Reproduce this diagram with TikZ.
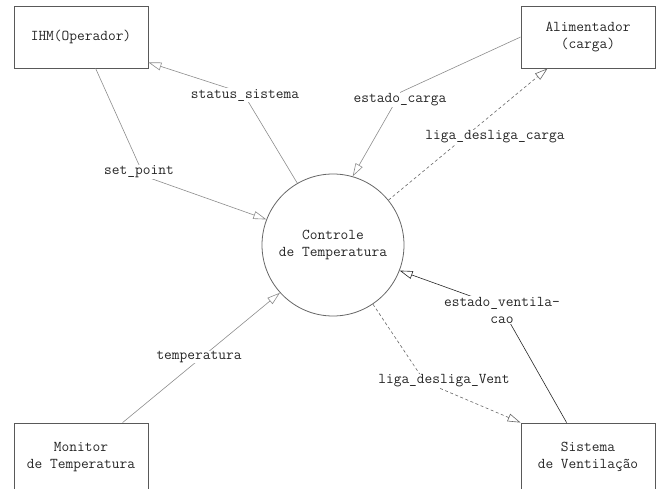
\documentclass[tikz,border=0pt]{standalone}
\usepackage{fontspec}
\usetikzlibrary{arrows.meta}

\begin{document}
\begin{tikzpicture}[x=1pt, y=-1pt,
  font=\ttfamily\fontsize{15}{17}\selectfont, text=black!85,
  ent/.style={draw=black!65, line width=0.8pt, minimum width=134pt, inner sep=0pt, align=center},
  proc/.style={circle, draw=black!60, line width=0.8pt, minimum size=142pt, inner sep=0pt, align=center},
  flow/.style={draw=black!45, line width=0.6pt, -{Triangle[open, length=13pt, width=8pt]}},
  ctl/.style={flow, draw=black!60, dash pattern=on 3pt off 2.5pt},
  lbl/.style={fill=white, inner sep=0.5pt}]
\useasboundingbox (0,0) rectangle (656,489);
% external entities
\node[ent, minimum height=62pt] (ihm) at (81,37){IHM(Operador)};
\node[ent, minimum height=62pt] (alim) at (588,37){Alimentador\\(carga)};
\node[ent, minimum height=68pt] (mon) at (81,457){Monitor\\de Temperatura};
\node[ent, minimum height=68pt] (sist) at (588,457){Sistema\\de Ventilação};
% process
\node[proc] (ctrl) at (333,245){Controle\\de Temperatura};
% bend points of the flows
\coordinate (spb) at (144,176);
\coordinate (ssb) at (243,93);
\coordinate (ecb) at (401,92);
\coordinate (evb) at (501,307);
\coordinate (lvb) at (425,382);
% flows
\draw[flow] ([xshift=82pt]ihm.south west) -- (spb) -- (ctrl.159);
\draw[flow] (ctrl.120) -- (ssb) -- ([yshift=6pt]ihm.south east);
\draw[flow] (alim.west) -- (ecb) -- (ctrl.74);
\draw[ctl] (ctrl.39) -- ([xshift=27pt]alim.south west);
\draw[flow, draw=black!85] ([xshift=46pt]sist.north west) -- (evb) -- (ctrl.-21);
\draw[ctl] (ctrl.-56) -- (lvb) -- (sist.north west);
\draw[flow] ([xshift=109pt]mon.north west) -- (ctrl.222);
% flow labels
\node[lbl] (sp) at (139,172){set\_point};
\node[lbl] (ss) at (245,95){status\_sistema};
\node[lbl] (ec) at (400,100){estado\_carga};
\node[lbl] (lc) at (495,137){liga\_desliga\_carga};
\node[lbl, align=center] (ev) at (502,310){estado\_ventila-\\cao};
\node[lbl] (lv) at (444,381){liga\_desliga\_Vent};
\node[lbl] (tp) at (199,357){temperatura};
\end{tikzpicture}
\end{document}
